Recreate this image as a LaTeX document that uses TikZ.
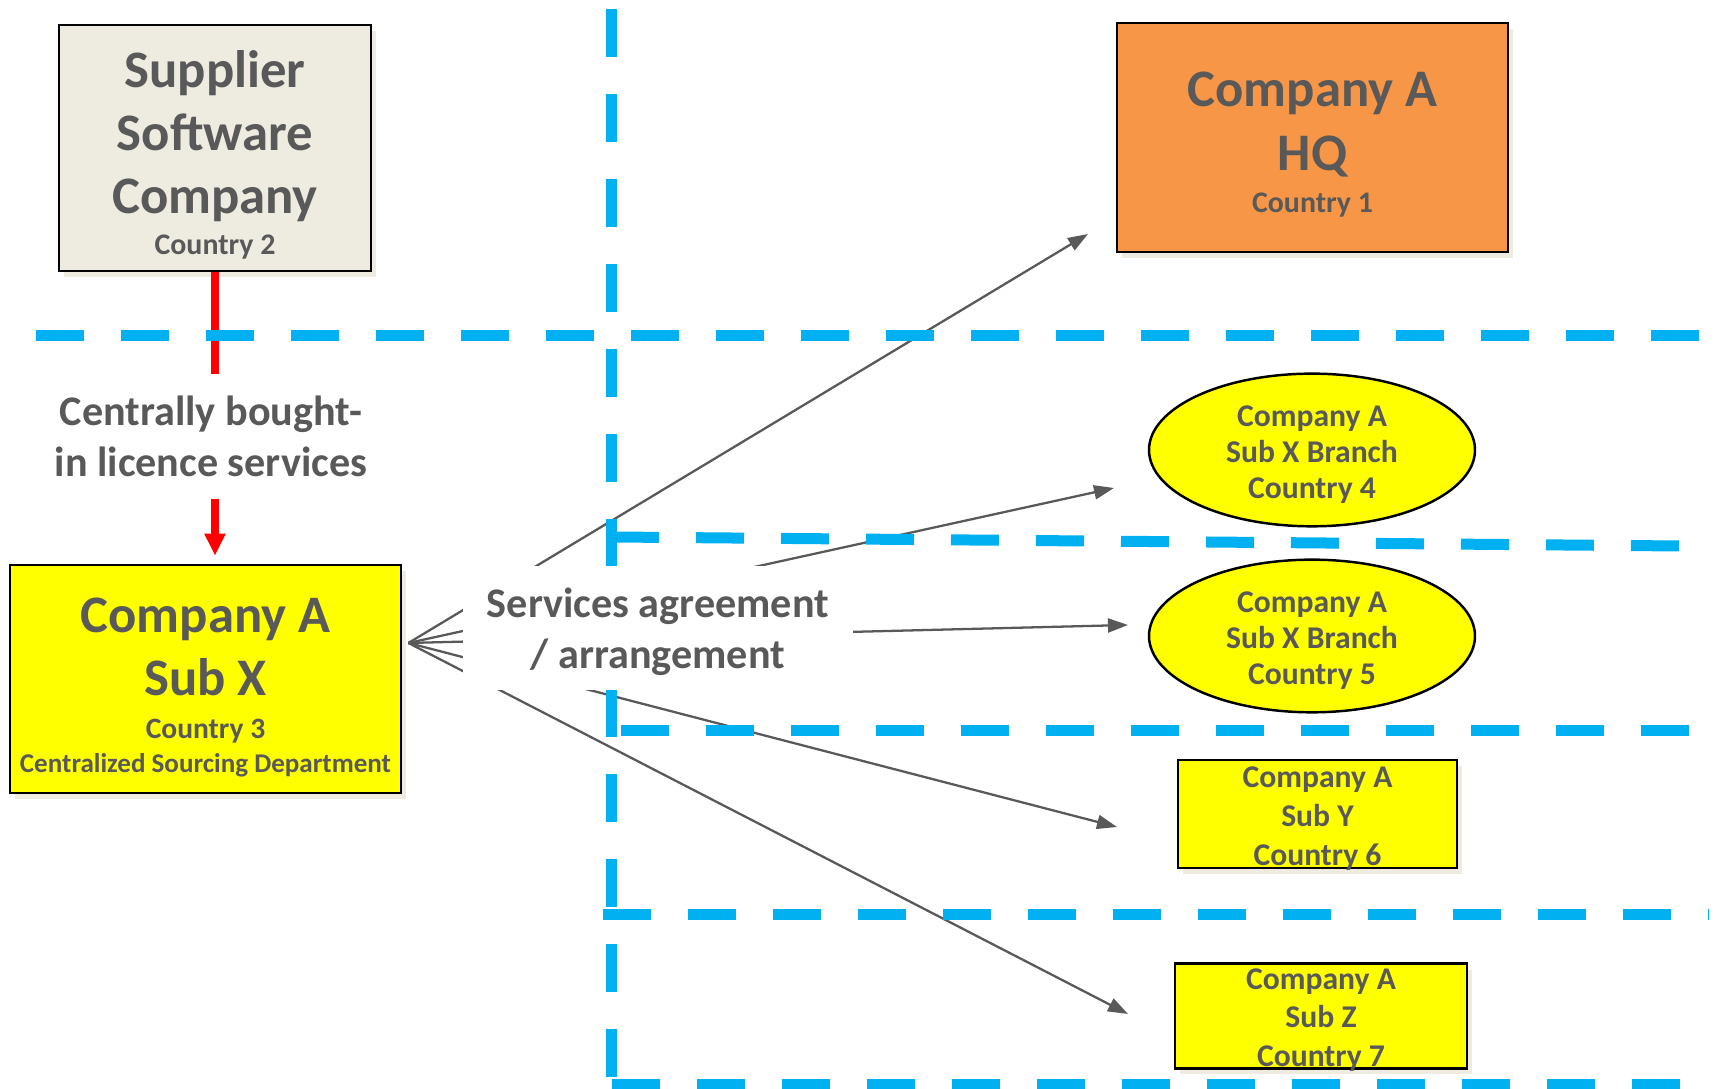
\documentclass[tikz,border=0pt]{standalone}
\usepackage{fontspec}
\setmainfont{Carlito}
\usepackage{xcolor}
\usepackage{tikz}
\usetikzlibrary{arrows.meta,shapes.geometric,shadows}
\definecolor{dashblue}{HTML}{00B0F0}
\definecolor{textgray}{HTML}{595959}
\definecolor{hqorange}{HTML}{F79646}
\definecolor{beige}{HTML}{EEECE1}
\definecolor{subyellow}{HTML}{FFFF00}
% invisible strut that pushes a text block down a little
\newcommand{\toppad}[1]{\rule{0pt}{#1}}

\begin{document}
\begin{tikzpicture}[
  border line/.style={dashblue, line width=0.11cm, dash pattern=on 0.48cm off 0.37cm},
  entity/.style={draw=black, line width=0.8pt, inner sep=0pt, align=center, text=textgray,
    drop shadow={shadow xshift=0.05cm, shadow yshift=-0.06cm, fill=beige, opacity=1}},
  big/.style={font=\bfseries\fontsize{15}{18}\selectfont},
  branch/.style={ellipse, draw=black, line width=0.7pt, fill=subyellow, inner sep=0pt, align=center,
    text=textgray, font=\bfseries\fontsize{9}{10.3}\selectfont},
  flow/.style={textgray, line width=0.65pt, -{Triangle[length=0.2cm,width=0.14cm]}},
  feed/.style={red, line width=2pt},
  caption/.style={text=textgray, align=center, inner sep=0pt, font=\bfseries\fontsize{12}{14.7}\selectfont}
]
\useasboundingbox (0,0) rectangle (17.23,10.89);
% supplier and buying entity
\node[entity, big, fill=beige, minimum width=3.12cm, minimum height=2.46cm] (supp) at (2.15,9.41)
  {\toppad{14.4pt}Supplier\\Software\\Company\\[-6.25pt]{\fontsize{8.5}{10}\selectfont Country 2}};
\node[entity, big, fill=subyellow, minimum width=3.91cm, minimum height=2.28cm] (subx) at (2.055,4.10)
  {\toppad{14.6pt}Company A\\Sub X\\[-6pt]{\fontsize{8.4}{10}\selectfont Country 3}\\[-8.3pt]{\fontsize{7.7}{10}\selectfont Centralized Sourcing Department}};
\node[caption, minimum height=1.24cm] (centr) at (2.11,6.525) {Centrally bought-\\in licence services};
% red licence feed
\draw[feed] (supp.south) -- (supp.south |- centr.north);
\draw[feed, -{Triangle[length=0.22cm,width=0.2cm]}, shorten >=0.08cm] (supp.south |- centr.south) -- (supp.south |- subx.north);
% group entities
\node[entity, big, fill=hqorange, minimum width=3.91cm, minimum height=2.29cm] (hq) at (13.125,9.515)
  {\toppad{13.9pt}Company A\\HQ\\[-6pt]{\fontsize{8.5}{10}\selectfont Country 1}};
\node[branch, minimum width=3.26cm, minimum height=1.49cm] (br4) at (13.12,6.39) {\toppad{8.7pt}Company A\\Sub X Branch\\Country 4};
\node[branch, minimum width=3.26cm, minimum height=1.51cm] (br5) at (13.12,4.53) {\toppad{8.7pt}Company A\\Sub X Branch\\Country 5};
\node[entity, fill=subyellow, minimum width=2.79cm, minimum height=1.08cm, inner ysep=-1pt,
  font=\bfseries\fontsize{9}{11.1}\selectfont] (suby) at (13.175,2.75) {\toppad{8.4pt}Company A\\Sub Y\\Country 6};
\node[entity, fill=subyellow, minimum width=2.92cm, minimum height=1.04cm, inner ysep=-0.8pt,
  font=\bfseries\fontsize{9}{10.9}\selectfont] (subz) at (13.21,0.73) {\toppad{8.1pt}Company A\\Sub Z\\Country 7};
% arrows fanning out of sub X
\coordinate (fan) at ([xshift=0.06cm,yshift=0.36cm]subx.east);
\coordinate (hqtip) at (10.88,8.55);
\coordinate (br4tip) at (11.14,6.01);
\coordinate (br5tip) at (11.28,4.64);
\coordinate (subytip) at (11.17,2.62);
\coordinate (subztip) at (11.28,0.75);
\foreach \t in {hqtip,br4tip,br5tip,subytip,subztip}{\draw[flow] (fan) -- (\t);}
% country borders
\draw[border line] (6.11,10.80) -- (6.11,0.04);
\draw[border line] (0.36,7.53) -- (17.01,7.53);
\draw[border line] (6.11,5.52) -- (16.80,5.43);
\draw[border line] (6.21,3.58) -- (16.92,3.58);
\draw[border line] (6.03,1.74) -- (17.09,1.74);
\draw[border line] (6.12,0.04) -- (16.92,0.04);
% label covering the fan
\node[caption, fill=white, minimum width=3.9cm, minimum height=1.24cm] (serv) at (6.58,4.61)
  {\toppad{10.6pt}Services agreement\\/ arrangement};
\end{tikzpicture}
\end{document}
